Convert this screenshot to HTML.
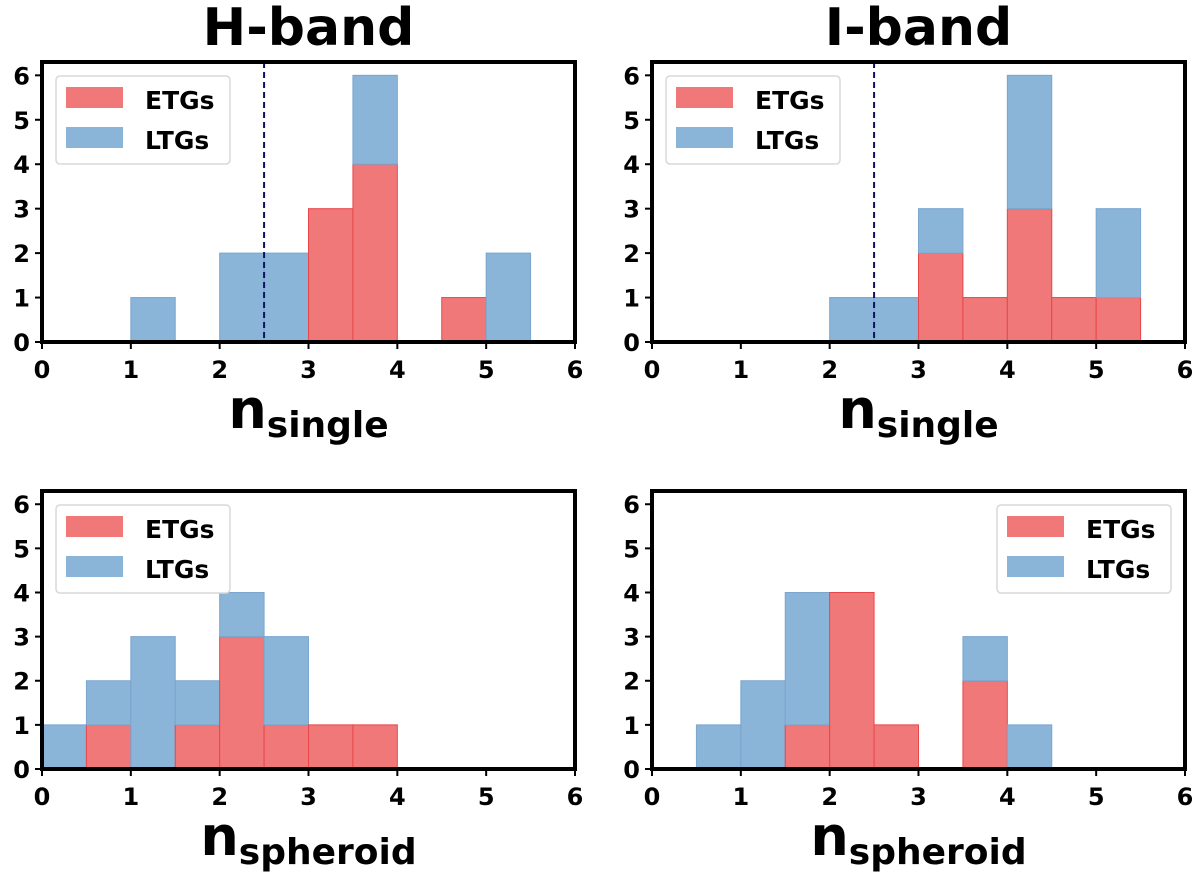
<!DOCTYPE html>
<html><head><meta charset="utf-8"><style>
body{margin:0;background:#fff;}
svg text{font-family:"DejaVu Sans","Liberation Sans",sans-serif;font-weight:bold;}
</style></head><body>
<svg id="fig" width="1200" height="880" xmlns="http://www.w3.org/2000/svg"></svg>
<script>
const binEdges=[0,0.5,1,1.5,2,2.5,3,3.5,4,4.5,5,5.5];
const hSingleETG=[0,0,0,0,0,0,3,4,0,1,0,0];
const hSingleLTG=[0,0,1,0,2,2,0,2,0,0,2,0];
const iSingleETG=[0,0,0,0,0,0,2,1,3,1,1,0];
const iSingleLTG=[0,0,0,0,1,1,1,0,3,0,2,0];
const hSphETG=[0,1,0,1,3,1,1,1,0,0,0,0];
const hSphLTG=[1,1,3,1,1,2,0,0,0,0,0,0];
const iSphETG=[0,0,0,1,4,1,0,2,0,0,0,0];
const iSphLTG=[0,1,2,3,0,0,0,1,1,0,0,0];
const xTicks=[0,1,2,3,4,5,6];
const yTicks=[0,1,2,3,4,5,6];
const NS="http://www.w3.org/2000/svg";
const svg=document.getElementById('fig');
function mk(t,a,p){const e=document.createElementNS(NS,t);for(const k in a)e.setAttribute(k,a[k]);(p||svg).appendChild(e);return e;}
const panels=[
 {x0:42,x1:575,y0:342,yt:62,etg:hSingleETG,ltg:hSingleLTG,dash:true,leg:'left',xl:'single',title:'H-band',name:'h-single'},
 {x0:652,x1:1185,y0:342,yt:62,etg:iSingleETG,ltg:iSingleLTG,dash:true,leg:'left',xl:'single',title:'I-band',name:'i-single'},
 {x0:42,x1:575,y0:769,yt:491,etg:hSphETG,ltg:hSphLTG,dash:false,leg:'left',xl:'spheroid',name:'h-spheroid'},
 {x0:652,x1:1185,y0:769,yt:491,etg:iSphETG,ltg:iSphLTG,dash:false,leg:'right',xl:'spheroid',name:'i-spheroid'}];
panels.forEach(p=>{
 const g=mk('g',{});
 
 
 const sx=v=>p.x0+(p.x1-p.x0)*v/6;
 const sy=v=>p.y0-(p.y0-p.yt)*v/6.3;
 const w=sx(0.5)-sx(0);
 binEdges.forEach((b,i)=>{
  const e=p.etg[i],l=p.ltg[i];
  if(e>0){const r=mk('rect',{x:sx(b),y:sy(e),width:w,height:sy(0)-sy(e),fill:'#f07878',stroke:'#e8474a','stroke-width':1},g);
   }
  if(l>0){const r=mk('rect',{x:sx(b),y:sy(e+l),width:w,height:sy(e)-sy(e+l),fill:'#8ab4d8',stroke:'#7aa6cf','stroke-width':1},g);
   }
 });
 if(p.dash){const d=mk('line',{x1:sx(2.5),x2:sx(2.5),y1:p.yt,y2:p.y0,stroke:'#101060','stroke-width':2,'stroke-dasharray':'6,4'},g);
  }
 mk('rect',{x:p.x0,y:p.yt,width:p.x1-p.x0,height:p.y0-p.yt,fill:'none',stroke:'#000','stroke-width':4},g);
 xTicks.forEach(t=>{mk('line',{x1:sx(t),x2:sx(t),y1:p.y0,y2:p.y0+7,stroke:'#000','stroke-width':2},g);
  const tx=mk('text',{x:sx(t),y:p.y0+36,'text-anchor':'middle','font-size':24},g);tx.textContent=t;
  });
 yTicks.forEach(t=>{mk('line',{x1:p.x0-7,x2:p.x0,y1:sy(t),y2:sy(t),stroke:'#000','stroke-width':2},g);
  const tx=mk('text',{x:p.x0-12,y:sy(t)+9,'text-anchor':'end','font-size':24},g);tx.textContent=t;
  });
 const xl=mk('text',{x:(p.x0+p.x1)/2,y:p.y0+86,'text-anchor':'middle','font-size':54},g);
 
 xl.innerHTML='n<tspan font-size="36" dy="9">'+p.xl+'</tspan>';
 if(p.title){const t=mk('text',{x:(p.x0+p.x1)/2,y:45,'text-anchor':'middle','font-size':52},g);t.textContent=p.title;
  }
 const lx=p.leg==='left'?p.x0+14:p.x1-188, ly=p.yt+14;
 const lg=mk('g',{},g);
 mk('rect',{x:lx,y:ly,width:174,height:88,rx:4,fill:'#fff',stroke:'#d8d8d8','stroke-width':1.5},lg);
 [['ETGs','#f07878'],['LTGs','#8ab4d8']].forEach((it,i)=>{
  const yy=ly+11+i*40;
  mk('rect',{x:lx+10,y:yy,width:57,height:21,fill:it[1]},lg);
  const t=mk('text',{x:lx+89,y:yy+22,'font-size':25},lg);t.textContent=it[0];
  
 });
});
</script>
</body></html>
